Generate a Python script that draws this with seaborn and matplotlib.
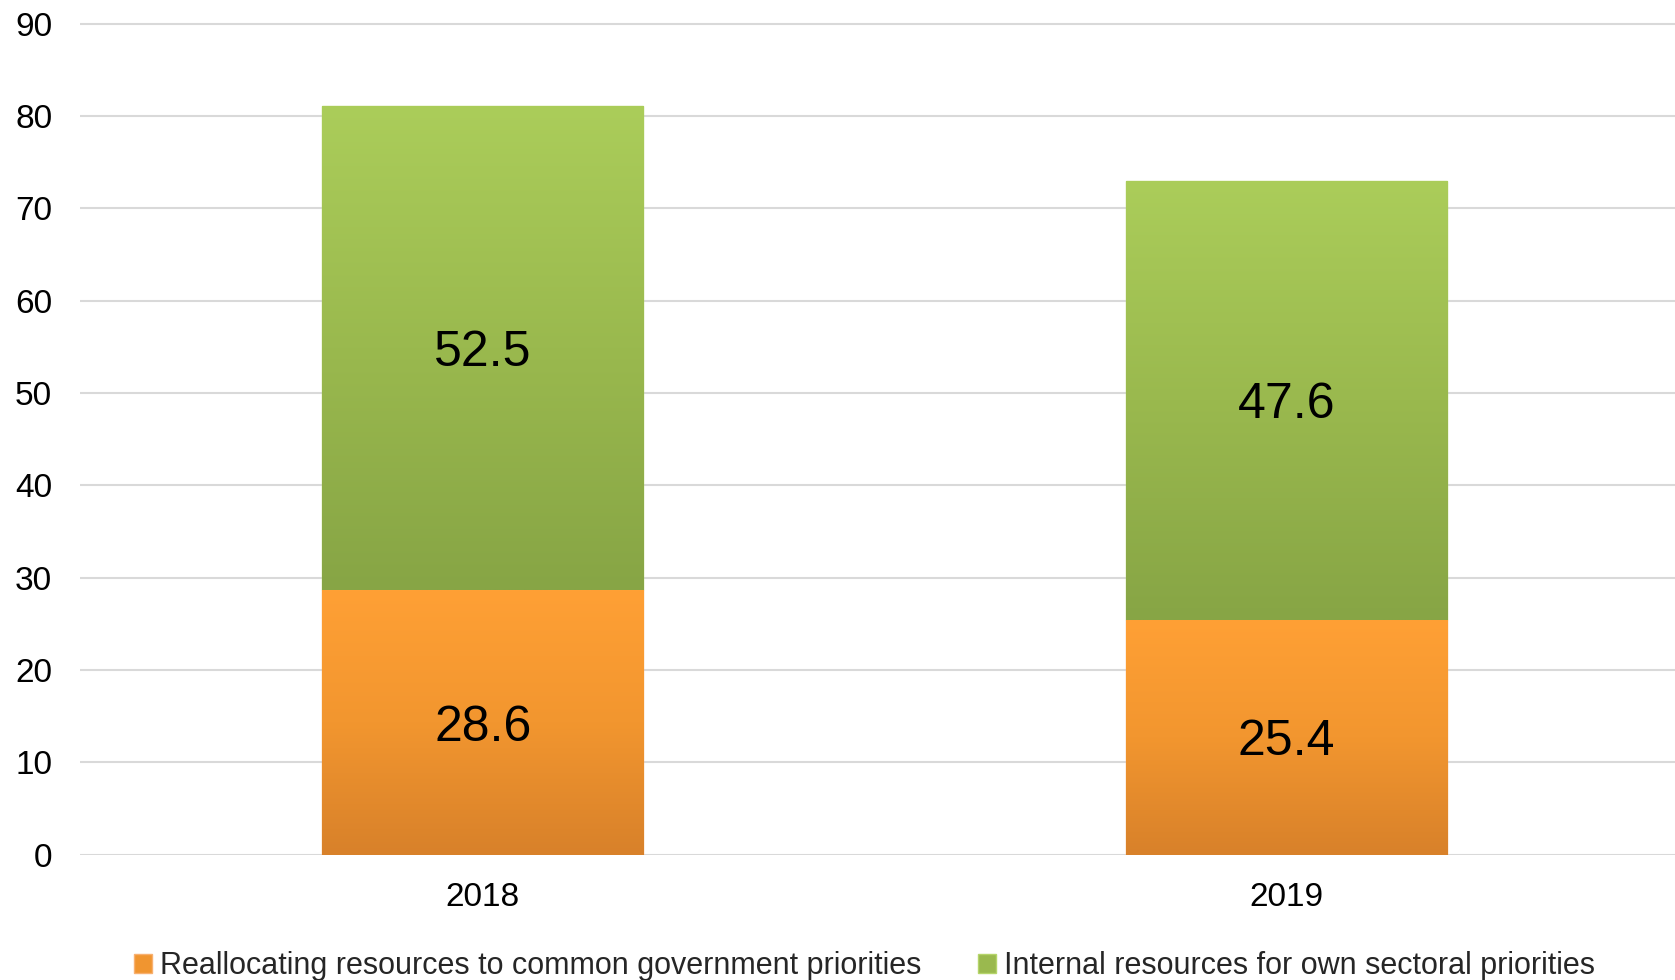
import numpy as np
import pandas as pd
import matplotlib
matplotlib.use("Agg")
import matplotlib.pyplot as plt
import seaborn as sns
from matplotlib.colors import LinearSegmentedColormap
from matplotlib.patches import Patch

years = ["2018", "2019"]
realloc = [28.6, 25.4]
internal = [52.5, 47.6]
series_names = ["Reallocating resources to common government priorities",
                "Internal resources for own sectoral priorities"]
yticks = [0, 10, 20, 30, 40, 50, 60, 70, 80, 90]

sns.set_theme(style="white")
plt.rcParams['font.family'] = ['Liberation Sans', 'DejaVu Sans']

fig = plt.figure(figsize=(16.75, 9.8), dpi=100)
ax = fig.add_axes([0.0478, 0.128, 0.952, 0.8508])

df = pd.DataFrame({"year": years, "realloc": realloc, "internal": internal})

sns.barplot(data=df, x="year", y="realloc", color="#FFA035", width=0.40,
            ax=ax, saturation=1, edgecolor="#F8B070", linewidth=1.0)
n_first = len(ax.patches)
sns.barplot(data=df, x="year", y="internal", bottom=df["realloc"], color="#ABCD5A",
            width=0.40, ax=ax, saturation=1, edgecolor="#B5D56A", linewidth=1.0)

orange_cmap = LinearSegmentedColormap.from_list("o", ["#D8812A", "#F2962F", "#FFA035"])
green_cmap = LinearSegmentedColormap.from_list("g", ["#87A545", "#9AB94E", "#ABCD5A"])

for i, p in enumerate(ax.patches):
    cmap = orange_cmap if i < n_first else green_cmap
    x0, y0 = p.get_x(), p.get_y()
    w, h = p.get_width(), p.get_height()
    grad = np.linspace(0, 1, 256).reshape(-1, 1)
    im = ax.imshow(grad, cmap=cmap, origin="lower", aspect="auto",
                   extent=[x0, x0 + w, y0, y0 + h], zorder=p.get_zorder() + 0.1)
    im.set_clip_path(p)

# value labels
for i, (r, t) in enumerate(zip(realloc, internal)):
    ax.text(i, r / 2, f"{r}", ha="center", va="center_baseline", fontsize=36, color="black", zorder=5)
    ax.text(i, r + t / 2, f"{t}", ha="center", va="center_baseline", fontsize=36, color="black", zorder=5)

ax.set_xlim(-0.501, 1.483)
ax.set_ylim(0, 90.3)
ax.set_yticks(yticks)
ax.set_yticklabels([str(v) for v in yticks])
ax.yaxis.grid(True, color="#D9D9D9", linewidth=1.5)
ax.set_axisbelow(True)
for s in ax.spines.values():
    s.set_visible(False)
ax.tick_params(axis="both", length=0, labelsize=24, colors="black")
ax.tick_params(axis="y", pad=20)
ax.tick_params(axis="x", pad=20)
ax.set_xlabel("")
ax.set_ylabel("")

handles = [Patch(facecolor="#F09530", edgecolor="#F8B070"),
           Patch(facecolor="#9AB94E", edgecolor="#B5D56A")]
leg = fig.legend(handles, series_names, loc="center", bbox_to_anchor=(0.516, 0.014),
                 ncol=2, frameon=False, handlelength=0.6, handleheight=0.6,
                 handletextpad=0.25, columnspacing=1.85,
                 prop={"family": ["Liberation Sans"], "size": 22})

fig.savefig("out.png", dpi=100)
